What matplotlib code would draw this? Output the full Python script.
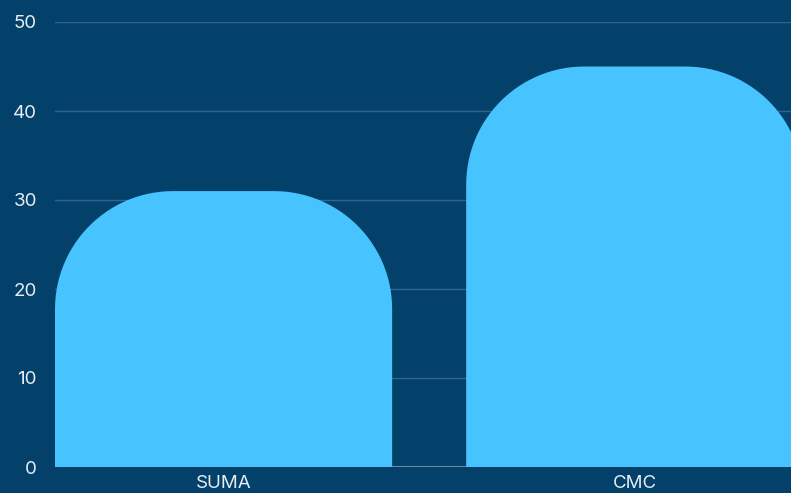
import numpy as np
import matplotlib.pyplot as plt
from matplotlib.path import Path
from matplotlib.patches import PathPatch

categories = ['SUMA', 'CMC']
values = [31, 45]
y_ticks = [0, 10, 20, 30, 40, 50]

BG = '#03406a'
BAR = '#47c3ff'
TXT = '#e6edf3'

plt.rcParams['font.family'] = ['Inter', 'DejaVu Sans']

fig = plt.figure(figsize=(7.91, 4.93), dpi=100)
fig.patch.set_facecolor(BG)
ax = fig.add_axes([55 / 791, 26 / 493, 736 / 791, 445 / 493])
ax.set_facecolor(BG)

x = np.arange(len(categories))
width = 0.82
ax.set_xlim(-0.41, 1.38)
ax.set_ylim(0, 50)

# corner radius in pixels, turned into data units on each axis
r_px = 118
ax_w = 736
ax_h = 445
rx = r_px * (1.79 / ax_w)
ry = r_px * (50 / ax_h)


def rounded_top(x0, x1, h):
    t = np.linspace(0, np.pi / 2, 30)
    verts = [(x0, 0), (x0, h - ry)]
    # left corner
    for a in t:
        verts.append((x0 + rx - rx * np.cos(a), h - ry + ry * np.sin(a)))
    verts.append((x1 - rx, h))
    # right corner
    for a in t:
        verts.append((x1 - rx + rx * np.sin(a), h - ry + ry * np.cos(a)))
    verts.append((x1, 0))
    verts.append((x0, 0))
    codes = [Path.MOVETO] + [Path.LINETO] * (len(verts) - 2) + [Path.CLOSEPOLY]
    return Path(verts, codes)


for xi, v in zip(x, values):
    p = rounded_top(xi - width / 2, xi + width / 2, v)
    ax.add_patch(PathPatch(p, facecolor=BAR, edgecolor='none', zorder=3))

ax.set_yticks(y_ticks)
ax.set_xticks(x)
ax.set_xticklabels(categories)
ax.grid(axis='y', color='#2f6690', linewidth=1, zorder=1)
ax.axhline(0, color='#6a8aa5', linewidth=1.5, zorder=2)

for s in ax.spines.values():
    s.set_visible(False)
ax.tick_params(axis='both', length=0, colors=TXT, labelsize=13.5)
ax.tick_params(axis='y', pad=13)
ax.tick_params(axis='x', pad=6)
for lab in ax.get_yticklabels():
    lab.set_horizontalalignment('right')

fig.savefig('out.png', dpi=100, facecolor=BG)
